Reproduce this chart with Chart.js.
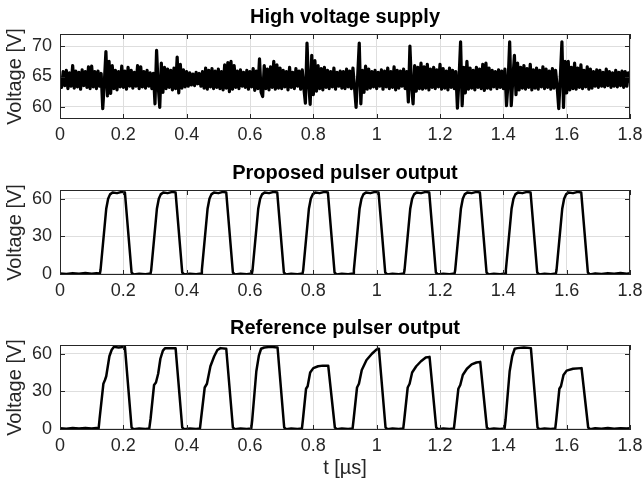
<!DOCTYPE html>
<html>
<head>
<meta charset="utf-8">
<script src="https://cdn.jsdelivr.net/npm/chart.js@4.4.0/dist/chart.umd.min.js"></script>
<style>
  html, body { margin: 0; padding: 0; background: #fff; overflow: hidden; width: 642px; height: 481px; }
  canvas { position: absolute; left: 0; }
</style>
</head>
<body>
<canvas id="hvChart" width="660" height="150" style="top:0px"></canvas>
<canvas id="propChart" width="660" height="150" style="top:156px"></canvas>
<canvas id="refChart" width="660" height="170" style="top:311px"></canvas>
<script>
// time axis (µs) and tick labels
const timeTicks = [0, 0.2, 0.4, 0.6, 0.8, 1, 1.2, 1.4, 1.6, 1.8];
const hvTicks = [60, 65, 70];
const pulseTicks = [0, 30, 60];

// high voltage supply, sampled every 5 ns from t = 0
const hvStep = 0.005;
const hvVolts = [
  64.5, 63.2, 65.8, 63.5, 66.0, 63.0, 65.6, 63.4, 66.8, 63.1, 65.9, 63.3, 65.7, 62.9, 66.1, 63.5, 65.8, 63.2, 66.6, 63.0,
  66.7, 63.3, 65.8, 63.0, 65.9, 63.4, 65.5, 59.7, 64.0, 69.1, 61.8, 67.5, 62.2, 66.8, 63.0, 66.0, 62.8, 65.8, 63.3, 66.7,
  63.2, 65.9, 62.9, 66.5, 63.4, 66.0, 63.1, 65.7, 63.4, 66.8, 63.0, 66.6, 63.3, 65.8, 63.1, 66.0, 63.4, 65.6, 63.0, 65.5,
  60.5, 69.3, 63.5, 59.9, 67.2, 62.4, 66.5, 63.0, 66.2, 63.2, 66.0, 62.8, 66.4, 63.0, 68.2, 62.3, 67.0, 63.1, 66.1, 63.3,
  65.8, 63.4, 65.6, 63.6, 65.4, 63.5, 65.7, 63.8, 65.5, 63.4, 65.8, 63.1, 66.4, 62.9, 66.0, 63.3, 66.3, 63.0, 65.9, 63.2,
  66.2, 63.0, 65.8, 62.8, 66.9, 63.1, 67.3, 62.5, 67.5, 62.9, 66.8, 63.2, 65.9, 63.0, 66.1, 63.4, 65.7, 63.2, 66.0, 62.9,
  65.8, 63.3, 66.3, 62.7, 65.9, 63.0, 67.9, 62.4, 61.7, 66.8, 63.0, 66.2, 62.8, 66.6, 63.2, 67.5, 62.9, 66.9, 63.1, 66.4,
  63.0, 66.0, 63.3, 65.8, 62.8, 66.5, 63.2, 65.7, 63.0, 66.3, 63.4, 65.9, 62.9, 66.1, 63.1, 60.6, 70.5, 64.0, 60.4, 68.5,
  62.0, 67.6, 62.6, 66.8, 63.0, 66.3, 62.8, 66.5, 63.2, 66.0, 63.0, 65.8, 63.3, 66.4, 62.9, 65.7, 63.4, 65.9, 63.1, 65.8,
  63.0, 66.2, 63.3, 65.9, 63.0, 66.4, 63.2, 59.9, 65.0, 70.5, 60.5, 66.0, 62.4, 66.7, 62.9, 66.2, 63.1, 65.8, 63.3, 66.0,
  63.0, 65.7, 63.4, 66.1, 62.9, 65.9, 63.3, 66.4, 63.0, 65.8, 63.2, 66.6, 62.8, 66.0, 63.1, 65.9, 63.4, 66.2, 63.0, 65.8,
  60.8, 70.0, 63.5, 60.5, 66.8, 62.6, 66.5, 63.0, 67.2, 62.9, 66.6, 63.1, 67.0, 62.8, 66.2, 63.2, 66.5, 63.0, 66.1, 63.3,
  67.0, 62.9, 66.3, 63.1, 65.9, 62.8, 66.4, 63.2, 66.0, 63.0, 65.8, 59.8, 64.5, 70.7, 60.2, 66.5, 62.3, 67.5, 62.9, 66.4,
  63.1, 66.0, 62.8, 66.5, 63.2, 66.2, 63.0, 67.0, 62.7, 67.2, 63.1, 66.4, 62.9, 66.0, 63.3, 65.8, 63.0, 66.1, 63.2, 65.9,
  63.0, 66.2, 60.2, 64.0, 70.7, 60.2, 64.5, 68.5, 62.0, 67.2, 62.8, 66.5, 63.1, 66.8, 62.9, 66.3, 63.2, 67.0, 62.8, 66.1,
  63.1, 66.4, 62.9, 66.0, 63.3, 66.6, 63.0, 66.2, 63.2, 65.9, 62.9, 66.3, 63.1, 66.0, 63.3, 59.7, 65.0, 70.7, 59.9, 67.5,
  62.3, 67.5, 62.8, 66.5, 63.0, 67.2, 62.9, 66.4, 63.2, 66.9, 63.0, 66.0, 63.3, 66.6, 62.9, 66.2, 63.1, 65.8, 63.4, 66.1,
  63.2, 66.0, 63.4, 65.7, 63.3, 66.2, 63.5, 65.8, 63.2, 65.6, 63.4, 66.0, 63.3, 65.7, 63.5, 65.9, 63.2, 65.8, 63.4, 65.6,
  64.2
];

// proposed pulser output: corner points of the trace
const propTime = [
  0, 0.02, 0.04, 0.06, 0.08, 0.10, 0.115, 0.126,
  0.128, 0.146, 0.152, 0.158, 0.166, 0.18, 0.195, 0.205, 0.226, 0.232, 0.25, 0.27, 0.286,
  0.288, 0.306, 0.312, 0.318, 0.326, 0.34, 0.355, 0.365, 0.386, 0.392, 0.41, 0.43, 0.446,
  0.448, 0.466, 0.472, 0.478, 0.486, 0.50, 0.515, 0.525, 0.546, 0.552, 0.57, 0.59, 0.606,
  0.608, 0.626, 0.632, 0.638, 0.646, 0.66, 0.675, 0.686, 0.707, 0.713, 0.73, 0.75, 0.766,
  0.768, 0.786, 0.792, 0.798, 0.806, 0.82, 0.835, 0.846, 0.867, 0.873, 0.89, 0.91, 0.926,
  0.928, 0.946, 0.952, 0.958, 0.966, 0.98, 0.995, 1.006, 1.027, 1.033, 1.05, 1.07, 1.086,
  1.088, 1.106, 1.112, 1.118, 1.126, 1.14, 1.155, 1.166, 1.187, 1.193, 1.21, 1.23, 1.246,
  1.248, 1.266, 1.272, 1.278, 1.286, 1.30, 1.315, 1.326, 1.347, 1.353, 1.37, 1.39, 1.406,
  1.408, 1.426, 1.432, 1.438, 1.446, 1.46, 1.475, 1.486, 1.507, 1.513, 1.53, 1.55, 1.566,
  1.568, 1.586, 1.592, 1.598, 1.606, 1.62, 1.635, 1.646, 1.667, 1.673, 1.69, 1.71, 1.73, 1.75, 1.77, 1.79, 1.8
];
const propVolt = [
  0.3, -0.2, 0.5, 0.1, 0.6, 0.0, 0.5, 0.2,
  3, 52, 60, 63.5, 65, 64.5, 65.5, 65, 1, -0.5, 0, -0.3, 0.2,
  3, 52, 60, 63.5, 65, 64.5, 65.5, 65, 1, -0.5, 0, -0.3, 0.2,
  3, 52, 60, 63.5, 65, 64.5, 65.5, 65, 1, -0.5, 0, -0.3, 0.2,
  3, 52, 60, 63.5, 65, 64.5, 65.5, 65, 1, -0.5, 0, -0.3, 0.2,
  3, 52, 60, 63.5, 65, 64.5, 65.5, 65, 1, -0.5, 0, -0.3, 0.2,
  3, 52, 60, 63.5, 65, 64.5, 65.5, 65, 1, -0.5, 0, -0.3, 0.2,
  3, 52, 60, 63.5, 65, 64.5, 65.5, 65, 1, -0.5, 0, -0.3, 0.2,
  3, 52, 60, 63.5, 65, 64.5, 65.5, 65, 1, -0.5, 0, -0.3, 0.2,
  3, 52, 60, 63.5, 65, 64.5, 65.5, 65, 1, -0.5, 0, -0.3, 0.2,
  3, 52, 60, 63.5, 65, 64.5, 65.5, 65, 1, -0.5, 0.3, -0.2, 0.5, 0, 0.6, 0.1, 0.4
];

// reference pulser output: corner points of the trace
const refTime = [
  0, 0.02, 0.04, 0.06, 0.08, 0.10, 0.115, 0.122,
  0.125, 0.137, 0.142, 0.146, 0.156, 0.163, 0.170, 0.185, 0.205, 0.226, 0.232, 0.25, 0.27, 0.282,
  0.286, 0.297, 0.303, 0.310, 0.317, 0.325, 0.332, 0.35, 0.365, 0.386, 0.392, 0.41, 0.43, 0.442,
  0.445, 0.457, 0.464, 0.475, 0.487, 0.497, 0.507, 0.525, 0.546, 0.552, 0.57, 0.59, 0.604,
  0.607, 0.620, 0.628, 0.635, 0.645, 0.665, 0.687, 0.708, 0.714, 0.73, 0.75, 0.764,
  0.767, 0.777, 0.782, 0.790, 0.800, 0.815, 0.830, 0.847, 0.868, 0.874, 0.89, 0.91, 0.924,
  0.927, 0.938, 0.944, 0.953, 0.968, 0.985, 1.000, 1.007, 1.028, 1.034, 1.05, 1.07, 1.084,
  1.087, 1.098, 1.104, 1.112, 1.125, 1.140, 1.155, 1.167, 1.188, 1.194, 1.21, 1.23, 1.244,
  1.247, 1.258, 1.264, 1.272, 1.285, 1.300, 1.315, 1.327, 1.348, 1.354, 1.37, 1.39, 1.404,
  1.407, 1.420, 1.428, 1.436, 1.445, 1.465, 1.487, 1.508, 1.514, 1.53, 1.55, 1.564,
  1.567, 1.577, 1.582, 1.590, 1.600, 1.620, 1.647, 1.668, 1.674, 1.69, 1.71, 1.73, 1.75, 1.77, 1.79, 1.8
];
const refVolt = [
  0.5, 0.1, 0.6, 0.2, 0.7, 0.2, 0.6, 0.3,
  8, 36, 39, 42, 58, 63, 65.5, 65, 65.5, 1, -0.3, 0.2, -0.2, 0.3,
  8, 35, 37, 44, 56, 62.5, 64.5, 64.5, 64.5, 1, -0.3, 0.2, -0.2, 0.3,
  7, 33, 36, 50, 58, 63, 64.5, 64, 1, -0.3, 0.2, -0.2, 0.3,
  7, 46, 58.5, 64, 65, 65.5, 65, 1, -0.3, 0.2, -0.2, 0.3,
  7, 32, 34, 45, 48.5, 50, 50.5, 50.5, 1, -0.3, 0.2, -0.2, 0.3,
  7, 33, 36, 47, 55, 60, 63.5, 64, 1, -0.3, 0.2, -0.2, 0.3,
  7, 33, 36, 45, 50, 54, 57, 57.5, 1, -0.3, 0.2, -0.2, 0.3,
  7, 32, 35, 43, 48, 51.5, 53, 53.5, 1, -0.3, 0.2, -0.2, 0.3,
  7, 46, 58, 64, 64.5, 65, 64.5, 1, -0.3, 0.2, -0.2, 0.3,
  7, 32, 34, 43, 46.5, 48, 48.5, 1, -0.3, 0.4, 0, 0.6, 0.1, 0.5, 0.2, 0.5
];

const fontFamily = '"Liberation Sans", Arial, Helvetica, sans-serif';
const axisColor = '#262626';
const gridColor = '#dedede';

// draws the full axes box with inward tick marks, like the original
const boxPlugin = {
  id: 'box',
  afterDatasetsDraw(chart) {
    const { ctx, chartArea: a, scales } = chart;
    const len = 5;
    ctx.save();
    ctx.strokeStyle = axisColor;
    ctx.lineWidth = 1;
    ctx.beginPath();
    scales.x.ticks.forEach(t => {
      const px = Math.round(scales.x.getPixelForValue(t.value)) + 0.5;
      ctx.moveTo(px, a.bottom); ctx.lineTo(px, a.bottom - len);
      ctx.moveTo(px, a.top); ctx.lineTo(px, a.top + len);
    });
    scales.y.ticks.forEach(t => {
      const py = Math.round(scales.y.getPixelForValue(t.value)) + 0.5;
      ctx.moveTo(a.left, py); ctx.lineTo(a.left + len, py);
      ctx.moveTo(a.right, py); ctx.lineTo(a.right - len, py);
    });
    ctx.stroke();
    ctx.strokeRect(a.left + 0.5, a.top + 0.5, a.right - a.left - 1, a.bottom - a.top - 1);
    ctx.restore();
  }
};

function makeChart(id, points, lineWidth, yMin, yMax, yTicks, title, xTitle, xHeight) {
  new Chart(document.getElementById(id), {
    type: 'line',
    data: {
      datasets: [{
        data: points,
        borderColor: '#000',
        borderWidth: lineWidth,
        borderJoinStyle: 'round',
        borderCapStyle: 'round',
        pointRadius: 0,
        tension: 0,
        fill: false
      }]
    },
    options: {
      responsive: false,
      animation: false,
      events: [],
      layout: { padding: { left: 0, right: 30, top: 0, bottom: 0 } },
      plugins: {
        legend: { display: false },
        tooltip: { enabled: false },
        title: {
          display: true,
          text: title,
          fullSize: false,
          color: '#000',
          font: { family: fontFamily, size: 20, weight: 'bold', lineHeight: 1.2 },
          padding: { top: 5, bottom: 5 }
        }
      },
      scales: {
        x: {
          type: 'linear',
          min: 0,
          max: 1.8,
          afterBuildTicks: s => { s.ticks = timeTicks.map(v => ({ value: v })); },
          afterFit: s => { s.height = xHeight; },
          grid: { color: gridColor, drawTicks: false },
          border: { display: false },
          ticks: {
            color: axisColor,
            font: { family: fontFamily, size: 18 },
            padding: 5,
            maxRotation: 0,
            autoSkip: false,
            callback: v => String(+v.toFixed(1))
          },
          title: {
            display: !!xTitle,
            text: xTitle || '',
            color: axisColor,
            font: { family: fontFamily, size: 20 },
            padding: { top: 0, bottom: 1 }
          }
        },
        y: {
          min: yMin,
          max: yMax,
          afterBuildTicks: s => { s.ticks = yTicks.map(v => ({ value: v })); },
          afterFit: s => { s.width = 60; },
          grid: { color: gridColor, drawTicks: false },
          border: { display: false },
          ticks: {
            color: axisColor,
            font: { family: fontFamily, size: 18 },
            padding: 8
          },
          title: {
            display: true,
            text: 'Voltage [V]',
            color: axisColor,
            font: { family: fontFamily, size: 20 },
            padding: { top: 3, bottom: 0 }
          }
        }
      }
    },
    plugins: [boxPlugin]
  });
}

function buildCharts() {
  const hvPoints = hvVolts.map((v, i) => ({ x: i * hvStep, y: v }));
  const propPoints = propTime.map((t, i) => ({ x: t, y: propVolt[i] }));
  const refPoints = refTime.map((t, i) => ({ x: t, y: refVolt[i] }));

  makeChart('hvChart', hvPoints, 3.2, 58, 72, hvTicks, 'High voltage supply', null, 31);
  makeChart('propChart', propPoints, 2.5, -1, 67, pulseTicks, 'Proposed pulser output', null, 31);
  makeChart('refChart', refPoints, 2.5, -1, 67, pulseTicks, 'Reference pulser output', 't [µs]', 51);
}

document.addEventListener('DOMContentLoaded', buildCharts);
</script>
</body>
</html>
